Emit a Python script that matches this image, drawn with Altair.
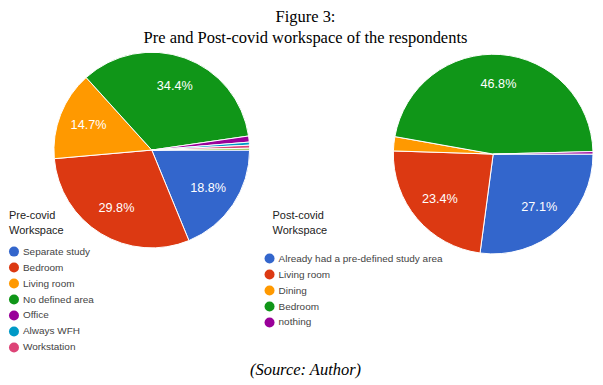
import math
import altair as alt
import pandas as pd

# ---------------- data ----------------
pre_categories = ["Separate study", "Bedroom", "Living room", "No defined area",
                  "Office", "Always WFH", "Workstation", "Other"]
pre_values = [18.8, 29.8, 14.7, 34.4, 1.0, 0.5, 0.5, 0.3]
pre_colors = ["#3366cc", "#dc3912", "#ff9900", "#109618",
              "#990099", "#0099c6", "#dd4477", "#66aa00"]
pre_legend = pre_categories[:7]

post_categories = ["Already had a pre-defined study area", "Living room", "Dining",
                   "Bedroom", "nothing"]
post_values = [27.1, 23.4, 2.3, 46.8, 0.4]
post_colors = ["#3366cc", "#dc3912", "#ff9900", "#109618", "#990099"]

title_lines = ["Figure 3:", "Pre and Post-covid workspace of the respondents"]
source_text = ["(Source: Author)"]

SANS = "Liberation Sans"
SERIF = "Liberation Serif"


def frame(cats, vals):
    return pd.DataFrame({
        "cat": cats,
        "value": vals,
        "idx": list(range(len(cats))),
        "label": [f"{v}%" if v >= 5 else "" for v in vals],
    })


theta_scale = alt.Scale(range=[math.pi / 2, math.pi / 2 + 2 * math.pi])


def pie(df, colors, legend, radius, label_radius, width, height):
    base = alt.Chart(df).encode(
        theta=alt.Theta("value:Q", stack=True, scale=theta_scale),
        order=alt.Order("idx:Q"),
    )
    arcs = base.mark_arc(outerRadius=radius, stroke="white", strokeWidth=1).encode(
        color=alt.Color("cat:N",
                        scale=alt.Scale(domain=list(df["cat"]), range=colors),
                        sort=list(df["cat"]),
                        legend=legend)
    )
    labels = base.mark_text(radius=label_radius, font=SANS, fontSize=12.7,
                            color="white").encode(text="label:N")
    return alt.layer(arcs, labels).properties(width=width, height=height)


common_legend = dict(
    orient="none", symbolType="circle", symbolSize=100, symbolStrokeWidth=0,
    labelFont=SANS, labelFontSize=10, labelColor="#444444", labelLimit=400,
    titleFont=SANS, titleFontSize=11, titleFontWeight="normal",
    titleColor="#222222", titleLineHeight=14.7, rowPadding=6,
)

left_legend = alt.Legend(title=["Pre-covid", "Workspace"], legendX=1, legendY=160,
                         titlePadding=11, values=pre_legend, **common_legend)
right_legend = alt.Legend(title=["Post-covid", "Workspace"], legendX=-121, legendY=160,
                          titlePadding=18, symbolOffset=-8, **common_legend)

left = pie(frame(pre_categories, pre_values), pre_colors, left_legend, 98, 68, 288, 200)

source = alt.Chart(pd.DataFrame({"t": source_text})).mark_text(
    font=SERIF, fontSize=16.5, fontStyle="italic", color="black"
).encode(text="t:N", x=alt.value(298), y=alt.value(320))

left = alt.layer(left, source)

right = pie(frame(post_categories, post_values), post_colors, right_legend, 100, 70, 200, 208)

chart = alt.hconcat(left, right, spacing=98, bounds="flush").resolve_scale(
    color="independent", theta="independent"
).properties(
    padding=0,
    title=alt.TitleParams(title_lines, font=SERIF, fontSize=16.5, fontWeight="normal",
                          color="black", anchor="middle", lineHeight=21, dx=4),
).configure_view(stroke=None)

chart.save("out.html", embed_options={"renderer": "svg", "actions": False})
